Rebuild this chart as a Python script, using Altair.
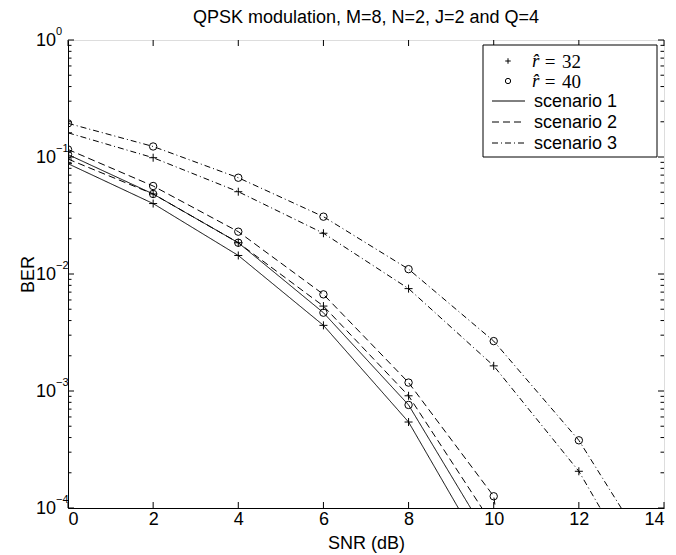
import altair as alt
import pandas as pd

# ---- data ----
snr = [0, 2, 4, 6, 8, 10, 12, 14]
ber_s1_r32 = [0.0877, 0.0400, 0.0144, 0.00364, 0.000543, 3.0e-5]
ber_s1_r40 = [0.105, 0.0483, 0.0185, 0.00467, 0.00076, 4.7e-5]
ber_s2_r32 = [0.096, 0.0483, 0.0185, 0.00532, 0.00091, 7.0e-5]
ber_s2_r40 = [0.116, 0.0565, 0.0230, 0.0067, 0.00118, 0.000126, 1e-9]
ber_s3_r32 = [0.161, 0.0986, 0.0505, 0.0223, 0.0075, 0.00164, 0.000206, 1.15e-5]
ber_s3_r40 = [0.194, 0.123, 0.0665, 0.0309, 0.0110, 0.00267, 0.000379, 2.6e-5]

title_text = "QPSK modulation, M=8, N=2, J=2 and Q=4"
scenarios = ["scenario 1", "scenario 2", "scenario 3"]
r_values = ["32", "40"]
x_ticks = [0, 2, 4, 6, 8, 10, 12, 14]
y_major = [1, 0.1, 0.01, 0.001, 0.0001]
y_exponents = ["0", "\u22121", "\u22122", "\u22123", "\u22124"]
y_minor = [m * d for d in [0.0001, 0.001, 0.01, 0.1] for m in range(2, 10)]

series = [
    ("scenario 1", "32", ber_s1_r32),
    ("scenario 1", "40", ber_s1_r40),
    ("scenario 2", "32", ber_s2_r32),
    ("scenario 2", "40", ber_s2_r40),
    ("scenario 3", "32", ber_s3_r32),
    ("scenario 3", "40", ber_s3_r40),
]
rows = []
for sc, r, vals in series:
    for s, v in zip(snr, vals):
        rows.append({"snr": s, "ber": v, "scenario": sc, "r": r, "series": sc + " r" + r})
df = pd.DataFrame(rows)

W, H = 596, 468
FONT = "Liberation Sans"
FS = 18

X = alt.X(
    "snr:Q",
    scale=alt.Scale(domain=[0, 14], nice=False, zero=False),
    axis=alt.Axis(values=x_ticks, tickSize=0, labelFontSize=FS, labelPadding=2,
                  labelFont=FONT, labelColor="black", title="SNR (dB)",
                  titleFont=FONT, titleFontSize=FS, titleFontWeight="normal",
                  titleColor="black", titlePadding=6, grid=False,
                  domainColor="black"),
)
Y = alt.Y(
    "ber:Q",
    scale=alt.Scale(type="log", domain=[1e-4, 1], nice=False),
    axis=alt.Axis(values=y_major, labels=False, tickSize=0,
                  title="BER",
                  titleFont=FONT, titleFontSize=FS, titleFontWeight="normal",
                  titleColor="black", titleX=-40, titleY=H / 2, titleAngle=-90,
                  titleAlign="center", titleBaseline="middle", grid=False,
                  domainColor="black"),
)

dash = alt.StrokeDash("scenario:N", scale=alt.Scale(domain=scenarios,
                      range=[[1, 0], [7, 4], [6, 3, 1, 3]]), legend=None)

lines = alt.Chart(df).mark_line(clip=True, color="black", strokeWidth=1).encode(
    x=X, y=Y, strokeDash=dash, detail="series:N", order="snr:Q"
)

plus_path = "M-1,0L1,0M0,-1L0,1"
points = alt.Chart(df).mark_point(clip=True, color="black", filled=False,
                                  strokeWidth=1, opacity=1).encode(
    x=X, y=Y,
    shape=alt.Shape("r:N", scale=alt.Scale(domain=r_values, range=[plus_path, "circle"]),
                    legend=None),
    size=alt.Size("r:N", scale=alt.Scale(domain=r_values, range=[64, 55]), legend=None),
)

xt = pd.DataFrame({"snr": x_ticks})
ymaj = pd.DataFrame({"ber": y_major, "exp": y_exponents})
ymin = pd.DataFrame({"ber": y_minor})

tick_style = dict(color="black", strokeWidth=1)
xt_bottom = alt.Chart(xt).mark_rule(**tick_style).encode(x=X, y=alt.value(H), y2=alt.value(H - 6))
xt_top = alt.Chart(xt).mark_rule(**tick_style).encode(x=X, y=alt.value(0), y2=alt.value(6))
yt_l = alt.Chart(ymaj).mark_rule(**tick_style).encode(y=Y, x=alt.value(0), x2=alt.value(6))
yt_r = alt.Chart(ymaj).mark_rule(**tick_style).encode(y=Y, x=alt.value(W), x2=alt.value(W - 6))
ym_l = alt.Chart(ymin).mark_rule(**tick_style).encode(y=Y, x=alt.value(0), x2=alt.value(3.5))
ym_r = alt.Chart(ymin).mark_rule(**tick_style).encode(y=Y, x=alt.value(W), x2=alt.value(W - 3.5))

# y tick labels: "10" with a raised exponent
ylab_base = alt.Chart(ymaj).mark_text(text="10", font=FONT, fontSize=FS, color="black",
                                      align="right", baseline="middle", dy=1).encode(
    y=Y, x=alt.value(-12))
ylab_exp = alt.Chart(ymaj).mark_text(font=FONT, fontSize=11, color="black",
                                     align="left", baseline="middle", dy=-8).encode(
    y=Y, x=alt.value(-12), text="exp:N")

one = pd.DataFrame({"k": [0]})
title_mark = alt.Chart(one).mark_text(text=title_text, font=FONT, fontSize=FS, color="black",
                                      align="center", baseline="middle").encode(
    x=alt.value(W / 2), y=alt.value(-22))

# ---- legend (drawn inside the axes, like MATLAB) ----
leg_box = alt.Chart(one).mark_rect(fill="white", stroke="black", strokeWidth=1).encode(
    x=alt.value(415), x2=alt.value(589), y=alt.value(5), y2=alt.value(117)
)
leg_plus = alt.Chart(one).mark_point(shape=plus_path, size=30, color="black",
                                     strokeWidth=1, opacity=1).encode(
    x=alt.value(440), y=alt.value(21))
leg_circ = alt.Chart(one).mark_point(shape="circle", size=28, color="black", filled=False,
                                     strokeWidth=1, opacity=1).encode(
    x=alt.value(440), y=alt.value(41))
serif = dict(font="Liberation Serif", fontSize=19, color="black", baseline="middle")
leg_items = []
for yy, num in [(21, "32"), (41, "40")]:
    leg_items.append(alt.Chart(one).mark_text(text="r\u0302", fontStyle="italic", align="left",
                                              **serif).encode(x=alt.value(464), y=alt.value(yy)))
    leg_items.append(alt.Chart(one).mark_text(text="=", align="center",
                                              **serif).encode(x=alt.value(482), y=alt.value(yy + 1)))
    leg_items.append(alt.Chart(one).mark_text(text=num, align="left",
                                              **serif).encode(x=alt.value(494), y=alt.value(yy + 1)))

dashes = [[1, 0], [7, 4], [6, 3, 1, 3]]
for i, (sc, d) in enumerate(zip(scenarios, dashes)):
    yy = 61 + i * 21
    leg_items.append(
        alt.Chart(one).mark_rule(color="black", strokeWidth=1, strokeDash=d).encode(
            x=alt.value(424), x2=alt.value(457), y=alt.value(yy))
    )
    leg_items.append(
        alt.Chart(one).mark_text(text=sc, font=FONT, fontSize=FS, color="black",
                                 align="left", baseline="middle").encode(
            x=alt.value(466), y=alt.value(yy + 1))
    )

chart = alt.layer(
    lines, points, xt_bottom, xt_top, yt_l, yt_r, ym_l, ym_r, ylab_base, ylab_exp,
    title_mark, leg_box, leg_plus, leg_circ, *leg_items
).properties(
    width=W, height=H,
    autosize="none",
    padding={"left": 60, "top": 32, "right": 4, "bottom": 47},
).configure_view(stroke="black", strokeWidth=1).configure(background="white")

chart.save("out.html", embed_options={"renderer": "svg", "actions": False})
